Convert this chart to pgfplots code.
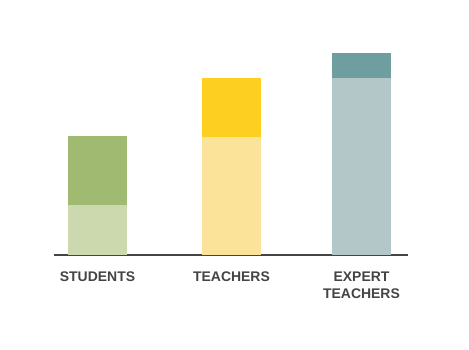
\documentclass[border=0pt]{standalone}
\usepackage{pgfplots}
\pgfplotsset{compat=1.18}
\usepackage{fontspec}
\setmainfont{Liberation Sans}
\definecolor{sl}{HTML}{CCD8AE}
\definecolor{sd}{HTML}{A0BA72}
\definecolor{tl}{HTML}{FBE49A}
\definecolor{td}{HTML}{FCCF20}
\definecolor{el}{HTML}{B3C6C8}
\definecolor{ed}{HTML}{6F9EA0}
\definecolor{txt}{HTML}{444444}
\begin{document}
\begin{tikzpicture}
\begin{axis}[
  scale only axis, width=354bp, height=255bp,
  xmin=54, xmax=408, ymin=0, ymax=255,
  axis x line=bottom, axis y line=none,
  axis line style={txt, line width=2bp, -},
  xtick={97.5,231.5,361.5},
  xticklabels={STUDENTS,TEACHERS,EXPERT\\TEACHERS},
  xticklabel style={align=center, text=txt, font=\fontsize{14}{17.5}\selectfont\bfseries, yshift=-13bp},
  major tick length=0pt,
  ybar, bar width=59bp, bar shift=0pt,
  clip=false,
  every axis plot/.append style={draw=none},
]
\addplot[fill=sd] coordinates {(97.5,119)};
\addplot[fill=sl] coordinates {(97.5,50)};
\addplot[fill=td] coordinates {(231.5,177)};
\addplot[fill=tl] coordinates {(231.5,118)};
\addplot[fill=ed] coordinates {(361.5,202)};
\addplot[fill=el] coordinates {(361.5,177)};
\path (axis cs:0,-95) rectangle (axis cs:469,255);
\end{axis}
\end{tikzpicture}
\end{document}
